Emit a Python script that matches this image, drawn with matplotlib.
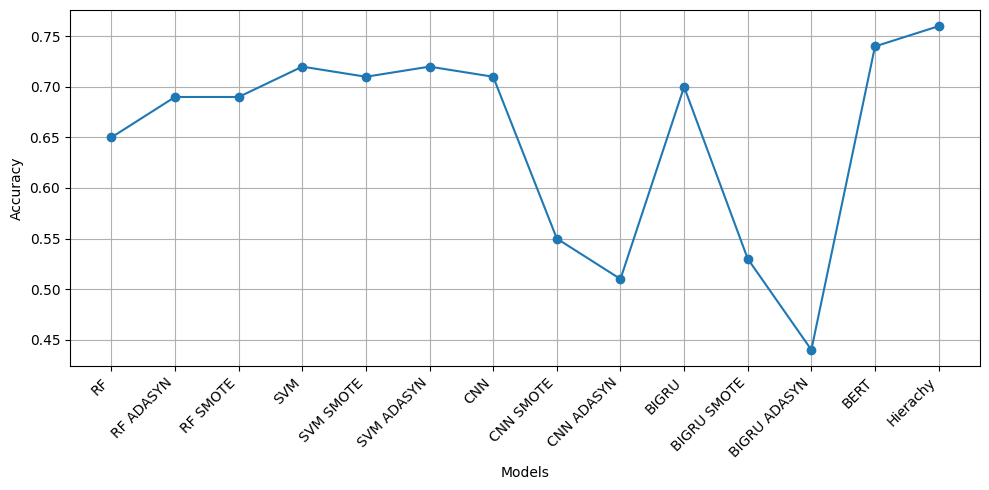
import matplotlib
matplotlib.use("Agg")
import matplotlib.pyplot as plt

models = ["RF", "RF ADASYN", "RF SMOTE", "SVM", "SVM SMOTE", "SVM ADASYN", "CNN",
          "CNN SMOTE", "CNN ADASYN", "BIGRU", "BIGRU SMOTE", "BIGRU ADASYN", "BERT", "Hierachy"]
accuracy = [0.65, 0.69, 0.69, 0.72, 0.71, 0.72, 0.71, 0.55, 0.51, 0.70, 0.53, 0.44, 0.74, 0.76]

fig, ax = plt.subplots(figsize=(9.89, 4.9), dpi=100)
ax.plot(models, accuracy, marker='o', color='#1f77b4')
ax.set_xlabel("Models")
ax.set_ylabel("Accuracy")
plt.xticks(rotation=45, ha='right')
ax.grid(True)
fig.subplots_adjust(left=70/989, right=980/989, top=1-10/490, bottom=1-366/490)
fig.savefig("out.png", dpi=100)
